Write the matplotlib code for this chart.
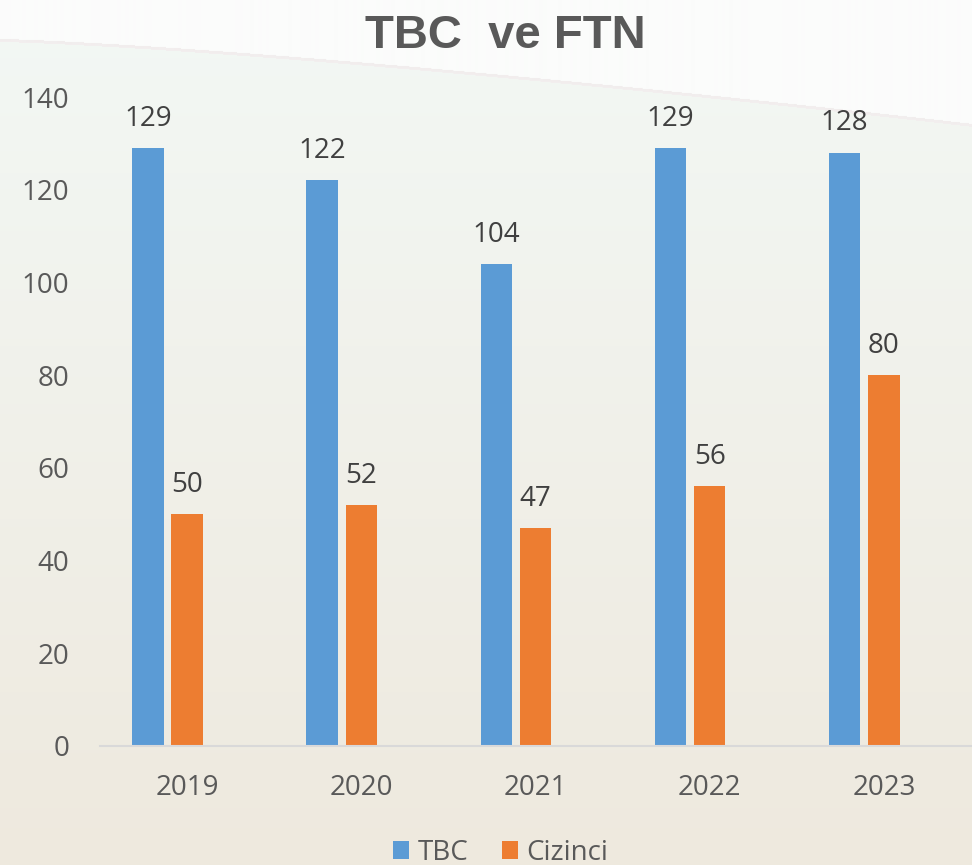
import numpy as np
import matplotlib.pyplot as plt

years = ['2019', '2020', '2021', '2022', '2023']
tbc = [129, 122, 104, 129, 128]
cizinci = [50, 52, 47, 56, 80]

blue = '#5b9bd5'
orange = '#ed7d31'
gray = '#595959'

plt.rcParams['font.family'] = ['Open Sans', 'DejaVu Sans']

fig = plt.figure(figsize=(9.72, 8.65), dpi=100)

# background: soft mint-to-beige gradient with a pale swoosh near the top
bg = fig.add_axes([0, 0, 1, 1], zorder=-10)
h, w = 865, 972
yy, xx = np.mgrid[0:h, 0:w]
t = (yy / h)[..., None]
top = np.array([0xf3, 0xf8, 0xf5]) / 255
bot = np.array([0xee, 0xe9, 0xde]) / 255
img = top * (1 - t) + bot * t
curve = 40 + 85 * (xx / w) ** 1.3
above = (yy < curve)[..., None]
white = np.array([0xfb, 0xfc, 0xfb]) / 255
img = np.where(above, white, img)
line = (np.abs(yy - curve) < 1.5)[..., None]
img = np.where(line, np.array([0xf2, 0xee, 0xee]) / 255, img)
bg.imshow(img, aspect='auto', extent=[0, 1, 0, 1])
bg.axis('off')

ax = fig.add_axes([100 / 972, 119 / 865, 871 / 972, 649 / 865])
ax.patch.set_alpha(0)

x = np.arange(len(years))
w_bar = 0.18
b1 = ax.bar(x - 0.225, tbc, w_bar, color=blue, label='TBC')
b2 = ax.bar(x, cizinci, w_bar, color=orange, label='Cizinci')

for bars in (b1, b2):
    for r in bars:
        ax.annotate(str(int(r.get_height())), (r.get_x() + r.get_width() / 2, r.get_height()),
                    xytext=(0, 11), textcoords='offset points', ha='center', va='bottom',
                    fontsize=20, color='#404040')

ax.set_xlim(-0.5, 4.5)
ax.set_ylim(0, 140)
ax.set_xticks(x)
ax.set_xticklabels(years)
ax.set_yticks(range(0, 141, 20))
ax.tick_params(axis='both', length=0, labelsize=20, labelcolor=gray)
ax.tick_params(axis='x', pad=20)
ax.tick_params(axis='y', pad=22)
for s in ['top', 'right', 'left']:
    ax.spines[s].set_visible(False)
ax.spines['bottom'].set_color('#d9d9d9')
ax.spines['bottom'].set_linewidth(1.5)

fig.text(0.52, 0.958, 'TBC  ve FTN', ha='center', va='center', fontsize=34,
         fontweight='bold', color=gray, family='Liberation Sans')

fig.legend(handles=[b1, b2], loc='center', bbox_to_anchor=(0.515, 0.014), ncol=2,
           frameon=False, fontsize=20, labelcolor=gray, handlelength=0.6,
           handleheight=0.6, handletextpad=0.3, columnspacing=1.2)

fig.savefig('out.png', dpi=100)
